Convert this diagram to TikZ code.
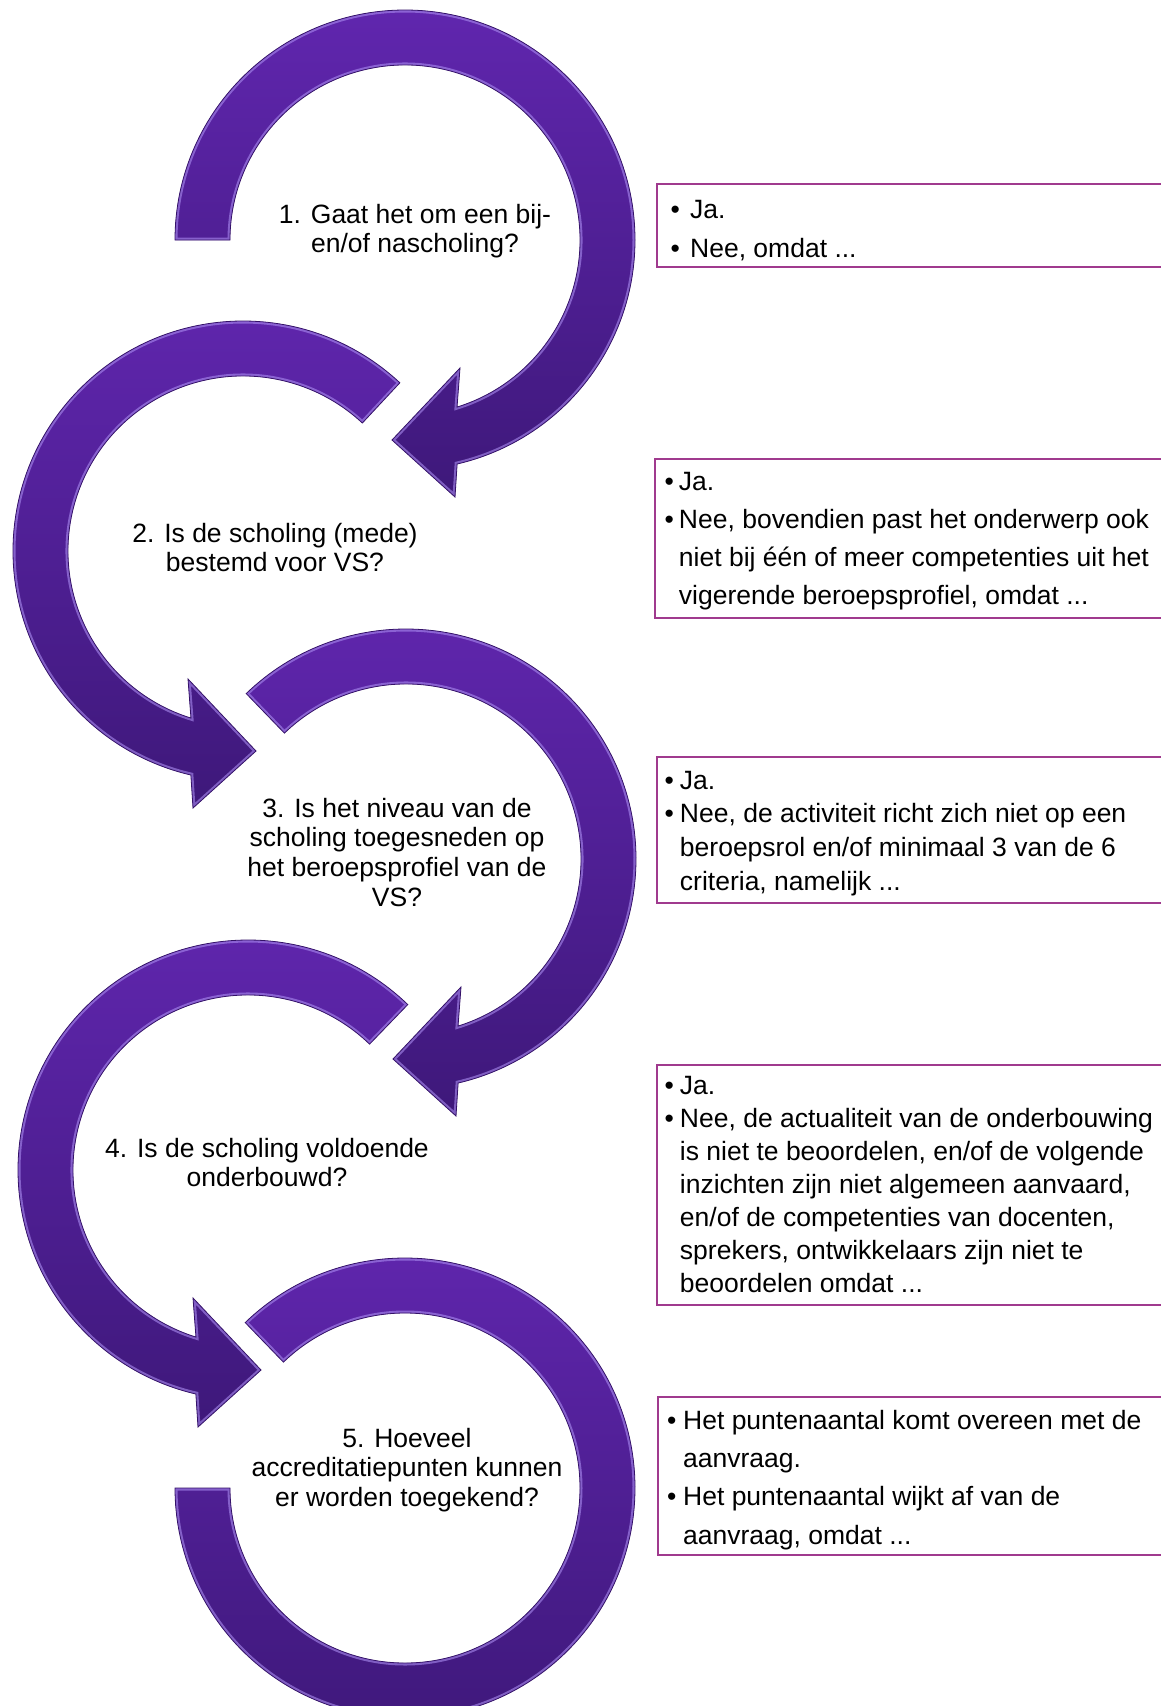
\documentclass[tikz,border=0pt]{standalone}
\usepackage{fontspec}
\setmainfont{Liberation Sans}
\definecolor{arcTop}{RGB}{96,38,174}
\definecolor{arcBot}{RGB}{62,24,122}
\definecolor{arcRim}{RGB}{170,140,240}
\definecolor{arcEdge}{RGB}{52,18,104}
\definecolor{boxLine}{RGB}{160,58,142}
\tikzset{
  arcbody/.style={top color=arcTop, bottom color=arcBot},
  arcrim/.style={draw=arcRim, line width=5pt, opacity=0.6},
  arcedge/.style={draw=arcEdge, line width=0.8pt},
  answerbox/.style={draw=boxLine, line width=2pt},
  qtext/.style={anchor=base, inner sep=0pt, font={\fontsize{26.5}{29.7}\selectfont}},
  atext/.style={anchor=base west, inner sep=0pt},
}
\newcommand\bevelshape[1]{%
  \path[arcbody] #1;
  \begin{scope}\clip #1; \draw[arcrim] #1; \end{scope}
  \draw[arcedge] #1;}
\begin{document}
\begin{tikzpicture}[x=1pt,y=-1pt]
\useasboundingbox (0,0) rectangle (1161,1706);
\fill[white] (0,0) rectangle (1161,1706);
\clip (0,0) rectangle (1161,1706);

% arc 1
\begin{scope}[shift={(405,240)}]
\bevelshape{(180:230) arc[start angle=180,end angle=436.9,radius=230] -- (50,257) -- (-13,200) -- (55,128) -- (432.7:175) arc[start angle=432.7,end angle=180,radius=175] -- cycle}
\end{scope}
% arc 2
\begin{scope}[shift={(243,551)}]
\bevelshape{(-47:230) arc[start angle=-47,end angle=-256.9,radius=230] -- (-50,257) -- (13,200) -- (-55,128) -- (-252.7:175) arc[start angle=-252.7,end angle=-47,radius=175] -- cycle}
\end{scope}
% arc 3
\begin{scope}[shift={(406,859)}]
\bevelshape{(226:230) arc[start angle=226,end angle=436.9,radius=230] -- (50,257) -- (-13,200) -- (55,128) -- (432.7:175) arc[start angle=432.7,end angle=226,radius=175] -- cycle}
\end{scope}
% arc 4
\begin{scope}[shift={(248,1170)}]
\bevelshape{(-46:230) arc[start angle=-46,end angle=-256.9,radius=230] -- (-50,257) -- (13,200) -- (-55,128) -- (-252.7:175) arc[start angle=-252.7,end angle=-46,radius=175] -- cycle}
\end{scope}
% arc 5
\begin{scope}[shift={(405,1488)}]
\bevelshape{(226:230) arc[start angle=226,end angle=540,radius=230] -- (540:175) arc[start angle=540,end angle=226,radius=175] -- cycle}
\end{scope}

% questions
\node[qtext] (q1) at (415,223) {\begin{tabular}[t]{@{}c@{}}1. Gaat het om een bij-\\en/of nascholing?\end{tabular}};
\node[qtext] (q2) at (275,542) {\begin{tabular}[t]{@{}c@{}}2. Is de scholing (mede)\\bestemd voor VS?\end{tabular}};
\node[qtext] (q3) at (397,817) {\begin{tabular}[t]{@{}c@{}}3. Is het niveau van de\\scholing toegesneden op\\het beroepsprofiel van de\\VS?\end{tabular}};
\node[qtext] (q4) at (267,1157) {\begin{tabular}[t]{@{}c@{}}4. Is de scholing voldoende\\onderbouwd?\end{tabular}};
\node[qtext] (q5) at (407,1447) {\begin{tabular}[t]{@{}c@{}}5. Hoeveel\\accreditatiepunten kunnen\\er worden toegekend?\end{tabular}};

% answer boxes
\draw[answerbox] (657,184) rectangle (1175,267);
\draw[answerbox] (655,459) rectangle (1175,618);
\draw[answerbox] (657,757) rectangle (1175,903);
\draw[answerbox] (657,1065) rectangle (1175,1305);
\draw[answerbox] (658,1397) rectangle (1175,1555);

\node[atext, font={\fontsize{26.5}{39}\selectfont}] (a1) at (670.5,218)
 {\begin{tabular}[t]{@{}l@{\hspace{10.2pt}}l@{}}•&Ja.\\•&Nee, omdat ...\end{tabular}};
\node[atext, font={\fontsize{26.5}{38.3}\selectfont}] (a2) at (664.5,490)
 {\begin{tabular}[t]{@{}l@{\hspace{5pt}}l@{}}•&Ja.\\•&Nee, bovendien past het onderwerp ook\\&niet bij één of meer competenties uit het\\&vigerende beroepsprofiel, omdat ...\end{tabular}};
\node[atext, font={\fontsize{26.5}{33.8}\selectfont}] (a3) at (664.5,789)
 {\begin{tabular}[t]{@{}l@{\hspace{6pt}}l@{}}•&Ja.\\•&Nee, de activiteit richt zich niet op een\\&beroepsrol en/of minimaal 3 van de 6\\&criteria, namelijk ...\end{tabular}};
\node[atext, font={\fontsize{26.5}{33}\selectfont}] (a4) at (664.5,1094)
 {\begin{tabular}[t]{@{}l@{\hspace{6pt}}l@{}}•&Ja.\\•&Nee, de actualiteit van de onderbouwing\\&is niet te beoordelen, en/of de volgende\\&inzichten zijn niet algemeen aanvaard,\\&en/of de competenties van docenten,\\&sprekers, ontwikkelaars zijn niet te\\&beoordelen omdat ...\end{tabular}};
\node[atext, font={\fontsize{26.5}{38.4}\selectfont}] (a5) at (667,1429)
 {\begin{tabular}[t]{@{}l@{\hspace{6.7pt}}l@{}}•&Het puntenaantal komt overeen met de\\&aanvraag.\\•&Het puntenaantal wijkt af van de\\&aanvraag, omdat ...\end{tabular}};
\end{tikzpicture}
\end{document}
